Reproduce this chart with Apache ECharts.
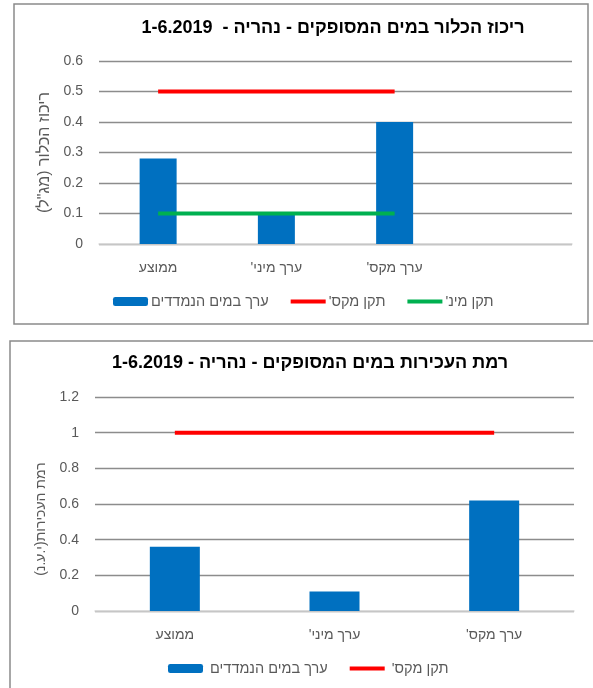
<!DOCTYPE html>
<html>
<head>
<meta charset="utf-8">
<script src="https://cdn.jsdelivr.net/npm/echarts@6/dist/echarts.min.js"></script>
<style>
html,body{margin:0;padding:0;background:#fff;}
#c{width:593px;height:688px;direction:rtl;}
</style>
</head>
<body>
<div id="c"></div>
<script>
// ---- data ----
const categories = ["ממוצע", "ערך מיני'", "ערך מקס'"];
const chlorineTitle = "ריכוז הכלור במים המסופקים - נהריה -  1-6.2019";
const chlorineAxisName = 'ריכוז הכלור (מג"ל)';
const chlorineMeasured = [0.28, 0.10, 0.40];
const chlorineMaxStd = [0.5, 0.5, 0.5];
const chlorineMinStd = [0.1, 0.1, 0.1];
const chlorineTicks = [0, 0.1, 0.2, 0.3, 0.4, 0.5, 0.6];

const turbidityTitle = "רמת העכירות במים המסופקים - נהריה - 1-6.2019";
const turbidityAxisName = "רמת העכירות(י.ע.נ)";
const turbidityMeasured = [0.36, 0.11, 0.62];
const turbidityMaxStd = [1, 1, 1];
const turbidityTicks = [0, 0.2, 0.4, 0.6, 0.8, 1, 1.2];

const seriesNames = ["ערך במים הנמדדים", "תקן מקס'", "תקן מינ'"];

// ---- styles ----
const BLUE = '#0070C0', RED = '#FF0000', GREEN = '#00B050';
const FONT = '"Liberation Sans", Arial, sans-serif';
const LABEL = '#595959';
const GRID = '#8c8c8c';
const LINE_ICON = 'path://M0 0H35V4H0Z';

function yAxis(idx, ticks, name, gap, size, pad) {
  return {
    type: 'value', gridIndex: idx,
    min: ticks[0], max: ticks[ticks.length - 1], interval: ticks[1] - ticks[0],
    name: name, nameLocation: 'middle', nameGap: gap, nameRotate: 90,
    nameTextStyle: {color: LABEL, fontSize: size, fontFamily: FONT, padding: pad},
    axisLine: {show: false}, axisTick: {show: false},
    axisLabel: {color: LABEL, fontSize: 14, fontFamily: FONT, margin: 16},
    splitLine: {lineStyle: {color: GRID, width: 1.3}}
  };
}
function xAxis(idx, max, margin) {
  const a = {
    type: 'category', gridIndex: idx, data: categories,
    axisLine: {lineStyle: {color: '#d9d9d9', width: 1.5}}, axisTick: {show: false},
    axisLabel: {color: LABEL, fontSize: 14, fontFamily: FONT, margin: margin}
  };
  if (max !== undefined) a.max = max;
  return a;
}
const legendText = {color: LABEL, fontSize: 14.5, fontFamily: FONT, padding: [0,0,0,-2]};

const chart = echarts.init(document.getElementById('c'), null, {renderer: 'canvas'});
chart.setOption({
  animation: false,
  backgroundColor: '#fff',
  title: [
    {text: chlorineTitle, left: 333, top: 19, padding: 0, textAlign: 'center',
     textStyle: {fontSize: 18, fontWeight: 'bold', color: '#000', fontFamily: FONT}},
    {text: turbidityTitle, left: 310, top: 354, padding: 0, textAlign: 'center',
     textStyle: {fontSize: 18, fontWeight: 'bold', color: '#000', fontFamily: FONT}}
  ],
  legend: [
    {data: [{name: seriesNames[0]}, {name: seriesNames[1], icon: LINE_ICON}, {name: seriesNames[2], icon: LINE_ICON}],
     left: 113, top: 294, padding: 0, itemWidth: 35, itemHeight: 9, itemGap: 22,
     textStyle: legendText},
    {data: [{name: seriesNames[0] + ' '}, {name: seriesNames[1] + ' ', icon: LINE_ICON}],
     left: 168, top: 661, padding: 0, itemWidth: 35, itemHeight: 9, itemGap: 22,
     textStyle: legendText}
  ],
  grid: [
    {left: 99, right: 21, top: 61, bottom: 444},
    {left: 95, right: 19, top: 397, bottom: 77}
  ],
  xAxis: [xAxis(0, 3, 17), xAxis(1, undefined, 17)],
  yAxis: [yAxis(0, chlorineTicks, chlorineAxisName, 44, 16, 0),
          yAxis(1, turbidityTicks, turbidityAxisName, 44, 14, [0, 30, 0, 0])],
  series: [
    {name: seriesNames[0], type: 'bar', xAxisIndex: 0, yAxisIndex: 0, data: chlorineMeasured,
     barWidth: 37, itemStyle: {color: BLUE}},
    {name: seriesNames[1], type: 'line', xAxisIndex: 0, yAxisIndex: 0, data: chlorineMaxStd,
     symbol: 'none', lineStyle: {color: RED, width: 4}, itemStyle: {color: RED}},
    {name: seriesNames[2], type: 'line', xAxisIndex: 0, yAxisIndex: 0, data: chlorineMinStd,
     symbol: 'none', lineStyle: {color: GREEN, width: 4}, itemStyle: {color: GREEN}},
    {name: seriesNames[0] + ' ', type: 'bar', xAxisIndex: 1, yAxisIndex: 1, data: turbidityMeasured,
     barWidth: 50, itemStyle: {color: BLUE}},
    {name: seriesNames[1] + ' ', type: 'line', xAxisIndex: 1, yAxisIndex: 1, data: turbidityMaxStd,
     symbol: 'none', lineStyle: {color: RED, width: 4}, itemStyle: {color: RED}}
  ],
  graphic: [
    {type: 'rect', shape: {x: 14, y: 4, width: 574, height: 320}, silent: true,
     style: {fill: 'none', stroke: '#8a8a8a', lineWidth: 1.5}},
    {type: 'rect', shape: {x: 10, y: 341, width: 600, height: 400}, silent: true,
     style: {fill: 'none', stroke: '#8a8a8a', lineWidth: 1.5}}
  ]
});
</script>
</body>
</html>
